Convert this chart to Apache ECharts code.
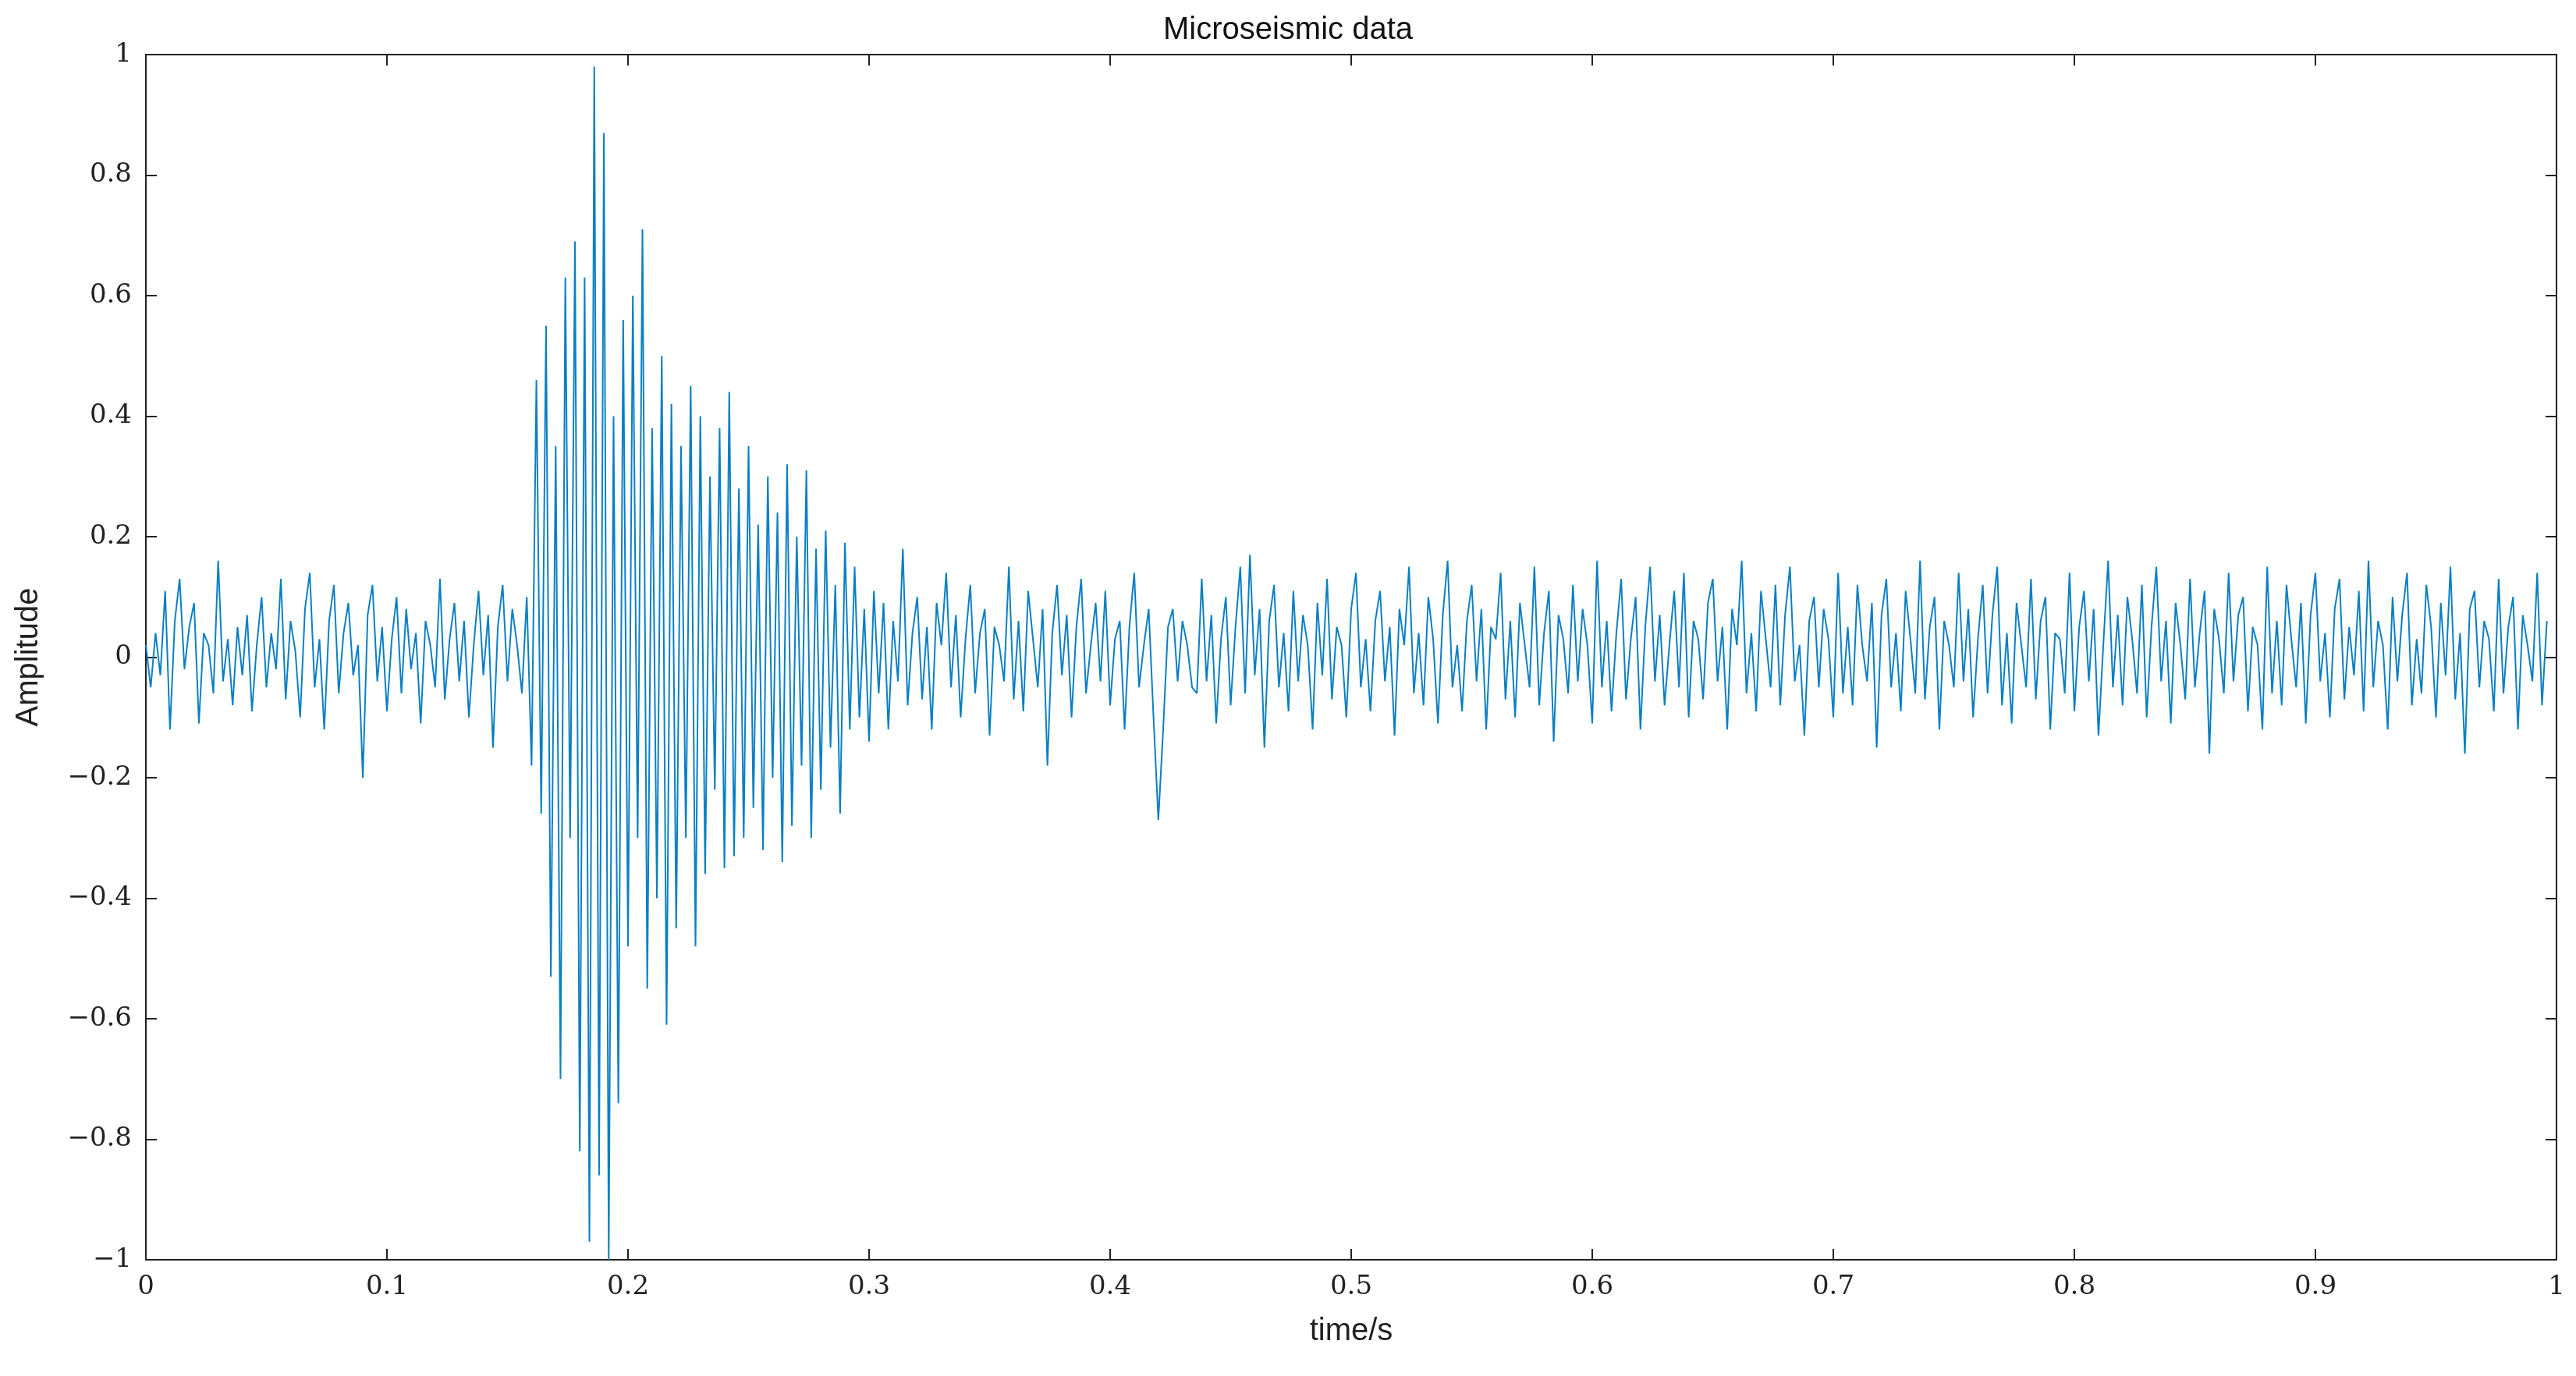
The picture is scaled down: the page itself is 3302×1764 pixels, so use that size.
<!DOCTYPE html>
<html>
<head>
<meta charset="utf-8">
<script src="https://cdn.jsdelivr.net/npm/echarts@6/dist/echarts.min.js"></script>
<style>html,body{margin:0;padding:0;background:#fff}#chart{width:3302px;height:1764px}</style>
</head>
<body>
<div id="chart"></div>
<script>
var dt = 0.002;
var amplitude = [
 0.02,-0.05,0.04,-0.03,0.11,-0.12,0.06,0.13,-0.02,0.05,0.09,-0.11,0.04,0.02,-0.06,0.16,-0.04,0.03,-0.08,0.05,
 -0.03,0.07,-0.09,0.02,0.10,-0.05,0.04,-0.02,0.13,-0.07,0.06,0.01,-0.10,0.08,0.14,-0.05,0.03,-0.12,0.06,0.12,
 -0.06,0.04,0.09,-0.03,0.02,-0.20,0.07,0.12,-0.04,0.05,-0.09,0.03,0.10,-0.06,0.08,-0.02,0.04,-0.11,0.06,0.02,
 -0.05,0.13,-0.07,0.03,0.09,-0.04,0.06,-0.10,0.02,0.11,-0.03,0.07,-0.15,0.05,0.12,-0.04,0.08,0.02,-0.06,0.10,
 -0.18,0.46,-0.26,0.55,-0.53,0.35,-0.70,0.63,-0.30,0.69,-0.82,0.63,-0.97,0.98,-0.86,0.87,
 -1.00,0.40,-0.74,0.56,-0.48,0.60,-0.30,0.71,-0.55,0.38,-0.40,0.50,-0.61,0.42,-0.45,0.35,-0.30,0.45,-0.48,0.40,-0.36,0.30,
 -0.22,0.38,-0.35,0.44,-0.33,0.28,-0.30,0.35,-0.25,0.22,-0.32,0.30,-0.20,0.24,-0.34,0.32,-0.28,0.20,-0.18,0.31,
 -0.30,0.18,-0.22,0.21,-0.15,0.12,-0.26,0.19,-0.12,0.15,-0.10,0.08,-0.14,0.11,-0.06,0.09,-0.12,0.06,-0.04,0.18,
 -0.08,0.04,0.10,-0.07,0.05,-0.12,0.09,0.02,0.14,-0.05,0.07,-0.10,0.03,0.12,-0.06,0.04,0.08,-0.13,0.05,0.02,
 -0.04,0.15,-0.07,0.06,-0.09,0.11,0.03,-0.05,0.08,-0.18,0.04,0.12,-0.03,0.07,-0.10,0.05,0.13,-0.06,0.02,0.09,
 -0.04,0.11,-0.08,0.03,0.06,-0.12,0.05,0.14,-0.05,0.02,0.08,-0.10,-0.27,-0.12,0.05,0.08,-0.04,0.06,0.02,-0.05,
 -0.06,0.13,-0.04,0.07,-0.11,0.03,0.10,-0.08,0.05,0.15,-0.06,0.17,-0.03,0.08,-0.15,0.06,0.12,-0.05,0.04,-0.09,
 0.11,-0.04,0.07,0.02,-0.12,0.09,-0.03,0.13,-0.07,0.05,0.02,-0.10,0.08,0.14,-0.05,0.03,-0.09,0.06,0.11,-0.04,
 0.05,-0.13,0.08,0.02,0.15,-0.06,0.04,-0.08,0.10,0.03,-0.11,0.07,0.16,-0.05,0.02,-0.09,0.06,0.12,-0.04,0.08,
 -0.12,0.05,0.03,0.14,-0.07,0.06,-0.10,0.09,0.02,-0.05,0.15,-0.08,0.04,0.11,-0.14,0.07,0.03,-0.06,0.12,-0.04,
 0.08,0.02,-0.11,0.16,-0.05,0.06,-0.09,0.04,0.13,-0.07,0.03,0.10,-0.12,0.05,0.15,-0.04,0.07,-0.08,0.02,0.11,
 -0.05,0.14,-0.10,0.06,0.03,-0.07,0.09,0.13,-0.04,0.05,-0.12,0.08,0.02,0.16,-0.06,0.04,-0.09,0.11,0.03,-0.05,
 0.12,-0.08,0.07,0.15,-0.04,0.02,-0.13,0.06,0.10,-0.05,0.08,0.03,-0.10,0.14,-0.06,0.05,-0.08,0.12,0.02,-0.04,
 0.09,-0.15,0.07,0.13,-0.05,0.04,-0.09,0.11,0.03,-0.06,0.16,-0.07,0.05,0.10,-0.12,0.06,0.02,-0.05,0.14,-0.04,
 0.08,-0.10,0.03,0.12,-0.06,0.07,0.15,-0.08,0.04,-0.11,0.09,0.02,-0.05,0.13,-0.07,0.06,0.10,-0.12,0.04,0.03,
 -0.06,0.14,-0.09,0.05,0.11,-0.04,0.08,-0.13,0.02,0.16,-0.05,0.07,-0.08,0.10,0.03,-0.06,0.12,-0.10,0.05,0.15,
 -0.04,0.06,-0.11,0.09,0.02,-0.07,0.13,-0.05,0.04,0.11,-0.16,0.08,0.03,-0.06,0.14,-0.04,0.07,0.10,-0.09,0.05,
 0.02,-0.12,0.15,-0.06,0.06,-0.08,0.12,0.03,-0.05,0.09,-0.11,0.07,0.14,-0.04,0.04,-0.10,0.08,0.13,-0.07,0.05,
 -0.03,0.11,-0.09,0.16,-0.05,0.06,0.02,-0.12,0.10,-0.04,0.07,0.14,-0.08,0.03,-0.06,0.12,0.05,-0.10,0.09,-0.03,
 0.15,-0.07,0.04,-0.16,0.08,0.11,-0.05,0.06,0.03,-0.09,0.13,-0.06,0.05,0.10,-0.12,0.07,0.02,-0.04,0.14,-0.08,
 0.06
];
var xTicks = [0,0.1,0.2,0.3,0.4,0.5,0.6,0.7,0.8,0.9,1];
var yTicks = [-1,-0.8,-0.6,-0.4,-0.2,0,0.2,0.4,0.6,0.8,1];

var points = amplitude.map(function (v, i) { return [+(i * dt).toFixed(4), v]; });
var tickFont = {fontFamily: 'DejaVu Serif', fontSize: 34, color: '#222'};
function fmt(v) { return v < 0 ? '\u2212' + String(-v) : String(v); }
var tickStyle = {inside: true, length: 14, lineStyle: {color: '#222', width: 2}};
var lineOff = {show: false, onZero: false};

var myChart = echarts.init(document.getElementById('chart'));
var option = {
    backgroundColor: '#fff',
    animation: false,
    title: {
        text: 'Microseismic data', left: 'center', top: 14,
        textStyle: {fontFamily: 'Liberation Sans', fontSize: 40, fontWeight: 'normal', color: '#111'}
    },
    grid: {left: 187, right: 25, top: 70, bottom: 149, show: true, borderColor: '#222', borderWidth: 2},
    xAxis: [{
        type: 'value', min: 0, max: 1, interval: 0.1, position: 'bottom',
        name: 'time/s', nameLocation: 'middle', nameGap: 72,
        nameTextStyle: {fontFamily: 'Liberation Sans', fontSize: 40, color: '#222'},
        axisLine: lineOff, splitLine: {show: false}, axisTick: tickStyle,
        axisLabel: Object.assign({margin: 18, formatter: fmt}, tickFont)
    }, {
        type: 'value', min: 0, max: 1, interval: 0.1, position: 'top',
        axisLine: lineOff, splitLine: {show: false}, axisLabel: {show: false}, axisTick: tickStyle
    }],
    yAxis: [{
        type: 'value', min: -1, max: 1, interval: 0.2, position: 'left',
        name: 'Amplitude', nameLocation: 'middle', nameGap: 130,
        nameTextStyle: {fontFamily: 'Liberation Sans', fontSize: 40, color: '#222'},
        axisLine: lineOff, splitLine: {show: false}, axisTick: tickStyle,
        axisLabel: Object.assign({margin: 18, formatter: fmt}, tickFont)
    }, {
        type: 'value', min: -1, max: 1, interval: 0.2, position: 'right',
        axisLine: lineOff, splitLine: {show: false}, axisLabel: {show: false}, axisTick: tickStyle
    }],
    series: [{
        type: 'line', data: points, showSymbol: false, symbol: 'none',
        lineStyle: {color: '#0a7fc4', width: 2}
    }]
};
myChart.setOption(option);
</script>
</body>
</html>
